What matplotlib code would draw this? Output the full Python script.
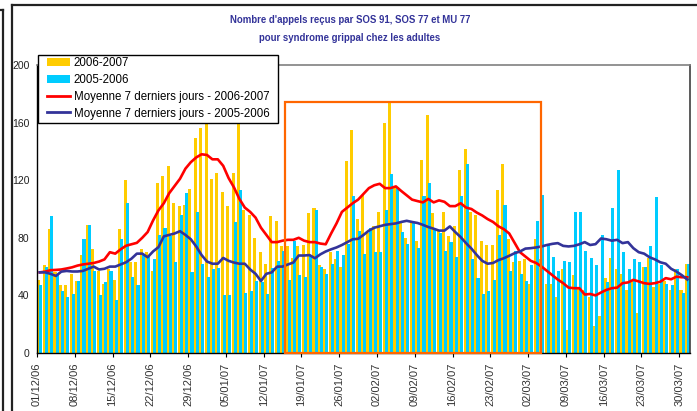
import matplotlib
matplotlib.use('Agg')
import matplotlib.pyplot as plt
from matplotlib.patches import Rectangle, Patch
from matplotlib.lines import Line2D
import numpy as np

# ---------------- data ----------------
n_days = 121  # 01/12/2006 .. 31/03/2007
tick_step = 7
tick_labels = ['01/12/06', '08/12/06', '15/12/06', '22/12/06', '29/12/06', '05/01/07',
               '12/01/07', '19/01/07', '26/01/07', '02/02/07', '09/02/07', '16/02/07',
               '23/02/07', '02/03/07', '09/03/07', '16/03/07', '23/03/07', '30/03/07']
y_ticks = [0, 40, 80, 120, 160, 200]

calls_0607 = [51, 61, 86, 56, 47, 47, 55, 50, 68, 89, 72, 57, 48, 58, 51, 86, 120, 63, 63, 72,
              70, 57, 118, 123, 130, 104, 102, 103, 114, 149, 156, 165, 121, 125, 112, 102, 125, 160, 99, 96,
              80, 70, 62, 95, 92, 74, 74, 66, 74, 75, 97, 101, 61, 58, 70, 65, 60, 133, 155, 93,
              110, 83, 88, 98, 160, 175, 116, 91, 80, 91, 78, 134, 165, 97, 85, 98, 81, 88, 127, 142,
              98, 96, 78, 75, 75, 113, 131, 79, 63, 64, 65, 48, 79, 65, 48, 48, 39, 58, 16, 54,
              45, 44, 39, 19, 26, 52, 66, 58, 55, 44, 50, 28, 60, 66, 46, 48, 50, 44, 58, 44,
              62]
calls_0506 = [47, 60, 95, 54, 43, 39, 41, 50, 79, 89, 57, 40, 49, 57, 37, 79, 104, 53, 47, 69,
              67, 65, 82, 87, 81, 63, 96, 111, 56, 98, 62, 53, 58, 59, 40, 40, 91, 113, 42, 43,
              50, 49, 41, 59, 64, 71, 51, 78, 54, 53, 68, 99, 60, 55, 62, 71, 68, 76, 109, 85,
              69, 87, 70, 70, 99, 124, 115, 84, 76, 90, 73, 109, 118, 86, 83, 71, 77, 67, 109, 131,
              65, 52, 41, 43, 51, 82, 103, 57, 71, 55, 50, 61, 92, 110, 75, 67, 57, 64, 63, 98,
              98, 71, 66, 61, 82, 49, 101, 127, 70, 58, 65, 63, 60, 74, 108, 61, 48, 47, 58, 42,
              62]
ma7_0607 = [56, 56.5, 57.5, 57.7, 58, 58.7, 59.5, 60.7, 61.5, 62, 62.5, 63.5, 65, 70, 69, 72, 74.5, 75.5, 76.5, 80,
            84, 92, 99, 104, 111, 116, 121, 128, 132.5, 135.8, 138, 137.5, 134.5, 134.5, 130, 121.5, 115, 107, 101, 98,
            94, 87, 82, 77, 77, 78, 78.6, 78.6, 80, 78, 77, 77, 76, 75.5, 83, 90, 98, 101, 104, 106.5,
            110.5, 114.5, 116.5, 117.5, 114.5, 114.5, 115.7, 112.5, 109.5, 106.5, 105.5, 104.6, 107, 104.6, 106, 105, 102, 102, 104, 101,
            100, 97.5, 95.5, 93, 91, 88, 86, 83, 76.5, 70, 67, 64, 62.5, 60, 57, 54, 51, 48.5, 45.4, 45,
            45, 40.6, 41, 40, 42, 43.8, 45, 45.4, 48.5, 49, 50.8, 49.7, 48.5, 48, 48.5, 49.5, 52, 51.2, 53, 52.6,
            52.6]
ma7_0506 = [56, 56, 55, 53.5, 56.5, 57, 56.6, 56.6, 57, 58.5, 60, 58, 58.5, 60, 60, 61.5, 63, 65.5, 69, 69,
            66.5, 70.5, 73.5, 81, 82, 83, 84.6, 82, 79, 74, 68, 63.5, 62, 62, 66, 64, 62.8, 62, 62, 58,
            55, 50, 55, 56, 60, 60, 61.5, 62.8, 67.7, 67.7, 68, 65.8, 68.5, 70.5, 72, 73.3, 75, 77, 79, 79.3,
            82, 85, 87, 88, 89, 89.5, 90, 91, 91.8, 91, 90.3, 89, 87.5, 86.3, 85, 85, 87.9, 84, 80.5, 76.3,
            72.5, 68, 64, 62, 62.5, 64.5, 65.8, 67.5, 69.3, 70.5, 72.5, 72.8, 73.3, 74, 75, 75.8, 76.3, 74.4, 74, 74.4,
            75.5, 77, 75, 75.6, 79.5, 79, 78, 78.6, 76.3, 77, 72.8, 70, 69, 66.5, 65, 63, 62, 58.5, 56.5, 54,
            51]

legend_labels = ['2006-2007', '2005-2006',
                 'Moyenne 7 derniers jours - 2006-2007',
                 'Moyenne 7 derniers jours - 2005-2006']
title_lines = ["Nombre d'appels reçus par SOS 91, SOS 77 et MU 77",
               "pour syndrome grippal chez les adultes"]

# highlighted period (orange frame)
highlight_start = 46.0
highlight_end = 93.3
highlight_top = 174

# ---------------- styles ----------------
C_Y = '#FFCC00'
C_C = '#00CCFF'
C_RED = '#FF0000'
C_BLUE = '#333399'
FONT = ['Liberation Sans', 'DejaVu Sans']
TFONT = ['Liberation Sans Narrow', 'Liberation Sans', 'DejaVu Sans']
plt.rcParams['font.family'] = FONT

W, H = 697, 411
fig = plt.figure(figsize=(W / 100, H / 100), dpi=100)
fig.patch.set_facecolor('white')


def fx(x):
    return x / W


def fy(y):
    return 1 - y / H


ax = fig.add_axes([fx(37), fy(353), 653 / W, 288 / H])

days = np.arange(n_days)
ax.bar(days + 0.33, calls_0607, width=0.57, color=C_Y, linewidth=0, zorder=2)
ax.bar(days + 0.715, calls_0506, width=0.57, color=C_C, linewidth=0, zorder=2.1)
ax.plot(days + 0.5, ma7_0607, color=C_RED, lw=1.9, zorder=3, solid_joinstyle='round')
ax.plot(days + 0.5, ma7_0506, color=C_BLUE, lw=1.9, zorder=3.1, solid_joinstyle='round')

ax.add_patch(Rectangle((highlight_start, 0), highlight_end - highlight_start, highlight_top,
                       fill=False, edgecolor='#FF6600', lw=1.6, zorder=3.5, clip_on=False))

ax.set_xlim(0, n_days)
ax.set_ylim(0, 200)
ax.set_xticks(days[::tick_step])
ax.set_xticklabels(tick_labels, rotation=90, fontsize=8, color='#333333')
ax.set_yticks(y_ticks)
ax.set_yticklabels([str(v) for v in y_ticks], fontsize=7.5, color='#222222')
ax.tick_params(axis='x', direction='out', length=3, width=0.8, pad=4, color='black')
ax.tick_params(axis='y', length=0, pad=5.5)

for s in ['left', 'bottom']:
    ax.spines[s].set_color('black')
    ax.spines[s].set_linewidth(1.0)
ax.spines['top'].set_color('#808080')
ax.spines['top'].set_linewidth(1.2)
ax.spines['right'].set_color('#404040')
ax.spines['right'].set_linewidth(1.2)
ax.set_facecolor('white')

# legend with a custom frame
ax.add_patch(Rectangle((fx(38), fy(123)), fx(278) - fx(38), fy(55) - fy(123),
                       transform=fig.transFigure, facecolor='white', edgecolor='black',
                       lw=1.0, zorder=4.5, clip_on=False))
handles = [Patch(facecolor=C_Y, edgecolor='none'),
           Patch(facecolor=C_C, edgecolor='none'),
           Line2D([], [], color=C_RED, lw=2.0),
           Line2D([], [], color=C_BLUE, lw=2.0)]
leg = ax.legend(handles, legend_labels, loc='upper left',
                bbox_to_anchor=(fx(47), fy(57)), bbox_transform=fig.transFigure,
                frameon=False, borderpad=0, borderaxespad=0, fontsize=8.3,
                handlelength=2.0, handleheight=0.75, handletextpad=0.3, labelspacing=0.42)
leg.set_zorder(5)

# title
fig.text(fx(350), fy(20), title_lines[0], ha='center', va='center', fontsize=6.9,
         fontweight='bold', color=C_BLUE, family=TFONT)
fig.text(fx(350), fy(38), title_lines[1], ha='center', va='center', fontsize=6.9,
         fontweight='bold', color=C_BLUE, family=TFONT)

# outer frames of the sheet
frame_kw = dict(transform=fig.transFigure, color='#222222', lw=1.6)
fig.add_artist(Line2D([fx(12), fx(12)], [fy(5), fy(411)], **frame_kw))
fig.add_artist(Line2D([fx(12), fx(697)], [fy(5), fy(5)], **frame_kw))
fig.add_artist(Line2D([fx(0), fx(2.5)], [fy(10), fy(10)], **frame_kw))
fig.add_artist(Line2D([fx(2.5), fx(2.5)], [fy(10), fy(411)], **frame_kw))

fig.savefig('out.png', dpi=100)
